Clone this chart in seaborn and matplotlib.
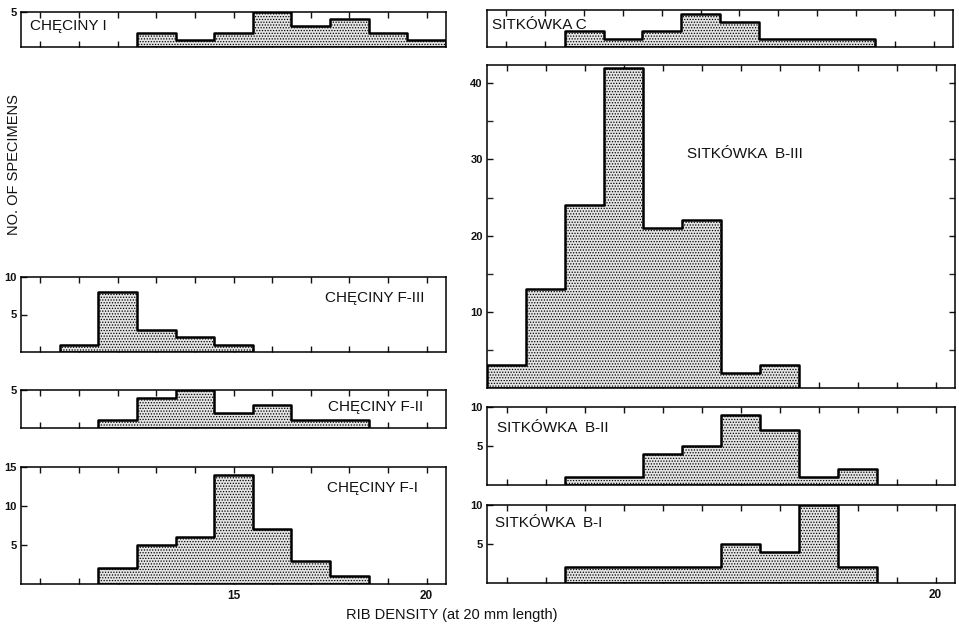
import matplotlib
matplotlib.use("Agg")
import matplotlib.pyplot as plt
import seaborn as sns
import numpy as np

# ---- data (rib density classes and number of specimens) ----
checiny_I_x = [13, 14, 15, 16, 17, 18, 19, 20]
checiny_I_n = [2, 1, 2, 5, 3, 4, 2, 1]
checiny_F3_x = [11, 12, 13, 14, 15]
checiny_F3_n = [1, 8, 3, 2, 1]
checiny_F2_x = [12, 13, 14, 15, 16, 17, 18]
checiny_F2_n = [1, 4, 5, 2, 3, 1, 1]
checiny_F1_x = [12, 13, 14, 15, 16, 17, 18]
checiny_F1_n = [2, 5, 6, 14, 7, 3, 1]
sitkowka_C_x = [11, 12, 13, 14, 15, 16, 17, 18]
sitkowka_C_n = [2, 1, 2, 4, 3, 1, 1, 1]
sitkowka_B3_x = [9, 10, 11, 12, 13, 14, 15, 16]
sitkowka_B3_n = [3, 13, 24, 42, 21, 22, 2, 3]
sitkowka_B2_x = [11, 12, 13, 14, 15, 16, 17, 18]
sitkowka_B2_n = [1, 1, 4, 5, 9, 7, 1, 2]
sitkowka_B1_x = [11, 12, 13, 14, 15, 16, 17, 18]
sitkowka_B1_n = [2, 2, 2, 2, 5, 4, 10, 2]

titles = ["CHĘCINY I", "CHĘCINY F-III", "CHĘCINY F-II", "CHĘCINY F-I",
          "SITKÓWKA C", "SITKÓWKA  B-III", "SITKÓWKA  B-II", "SITKÓWKA  B-I"]
x_label = "RIB DENSITY (at 20 mm length)"
y_label = "NO. OF SPECIMENS"

sns.set_theme(style="white")
plt.rcParams["font.family"] = ["Liberation Sans", "DejaVu Sans"]
plt.rcParams["hatch.linewidth"] = 0.6
plt.rcParams["hatch.color"] = "#555555"

W, H = 959, 627
fig = plt.figure(figsize=(W / 100, H / 100), dpi=100)
fig.patch.set_facecolor("white")


def add_ax(left, right, top, bottom):
    return fig.add_axes([left / W, 1 - bottom / H, (right - left) / W, (bottom - top) / H])


LL, LR = 21, 446
RL, RR = 487, 955
panels = [
    (checiny_I_x, checiny_I_n, titles[0], (LL, LR, 12, 47), (9.5, 20.5), (0, 5), [5], {}, (30, 26)),
    (checiny_F3_x, checiny_F3_n, titles[1], (LL, LR, 277, 352), (9.5, 20.5), (0, 10), [5, 10], {}, (325, 298)),
    (checiny_F2_x, checiny_F2_n, titles[2], (LL, LR, 390, 428), (9.5, 20.5), (0, 5), [5], {}, (328, 407)),
    (checiny_F1_x, checiny_F1_n, titles[3], (LL, LR, 467, 584), (9.5, 20.5), (0, 15), [5, 10, 15], {15: "15", 20: "20"}, (327, 488)),
    (sitkowka_C_x, sitkowka_C_n, titles[4], (RL, RR - 2, 10, 47), (8.5, 20.5), (0, 4.5), [], {}, (492, 25)),
    (sitkowka_B3_x, sitkowka_B3_n, titles[5], (RL, RR, 65, 388), (8.5, 20.5), (0, 42.4), [10, 20, 30, 40], {}, (687, 154)),
    (sitkowka_B2_x, sitkowka_B2_n, titles[6], (RL, RR, 407, 485), (8.5, 20.5), (0, 10), [5, 10], {}, (497, 428)),
    (sitkowka_B1_x, sitkowka_B1_n, titles[7], (RL, RR, 505, 583), (8.5, 20.5), (0, 10), [5, 10], {20: "20"}, (495, 523)),
]

for i, (xs, ns, title, box, xlim, ylim, yticks, xlabels, tpos) in enumerate(panels):
    ax = add_ax(*box)
    sns.histplot(x=xs, weights=ns, discrete=True, element="step", fill=True,
                 color="#e4e4e4", alpha=1, edgecolor="black", linewidth=1.8,
                 hatch="......", ax=ax)
    ax.set_xlim(*xlim)
    ax.set_ylim(*ylim)
    ax.set_xlabel("")
    ax.set_ylabel("")
    for s in ax.spines.values():
        s.set_visible(True)
        s.set_color("black")
        s.set_linewidth(1.1)
    xt = np.arange(int(np.ceil(xlim[0])), int(np.floor(xlim[1])) + 1)
    ax.set_xticks(xt)
    ax.set_xticklabels([xlabels.get(int(v), "") for v in xt], fontsize=8.5, fontweight="bold")
    ax.set_yticks(yticks)
    ax.set_yticklabels([str(v) for v in yticks], fontsize=8, fontweight="bold")
    ax.tick_params(axis="x", direction="in", length=4, width=1, top=True, bottom=True,
                   pad=4, colors="#111111")
    ax.tick_params(axis="y", direction="in", length=4, width=1, left=True, right=False,
                   pad=3, colors="#111111")
    if i == 5:
        ax.set_yticks([5, 15, 25, 35], minor=True)
        ax.tick_params(axis="y", which="both", direction="in", length=4, width=1,
                       left=True, right=True)
    fig.text(tpos[0] / W, 1 - tpos[1] / H, title, ha="left", va="center", fontsize=11,
             color="#111111")

fig.text(452 / W, 1 - 615 / H, x_label, ha="center", va="center", fontsize=10.5, color="#111111")
fig.text(14 / W, 1 - 165 / H, y_label, ha="center", va="center", rotation=90, fontsize=10.5,
         color="#111111")

fig.savefig("out.png", dpi=100, facecolor="white")
